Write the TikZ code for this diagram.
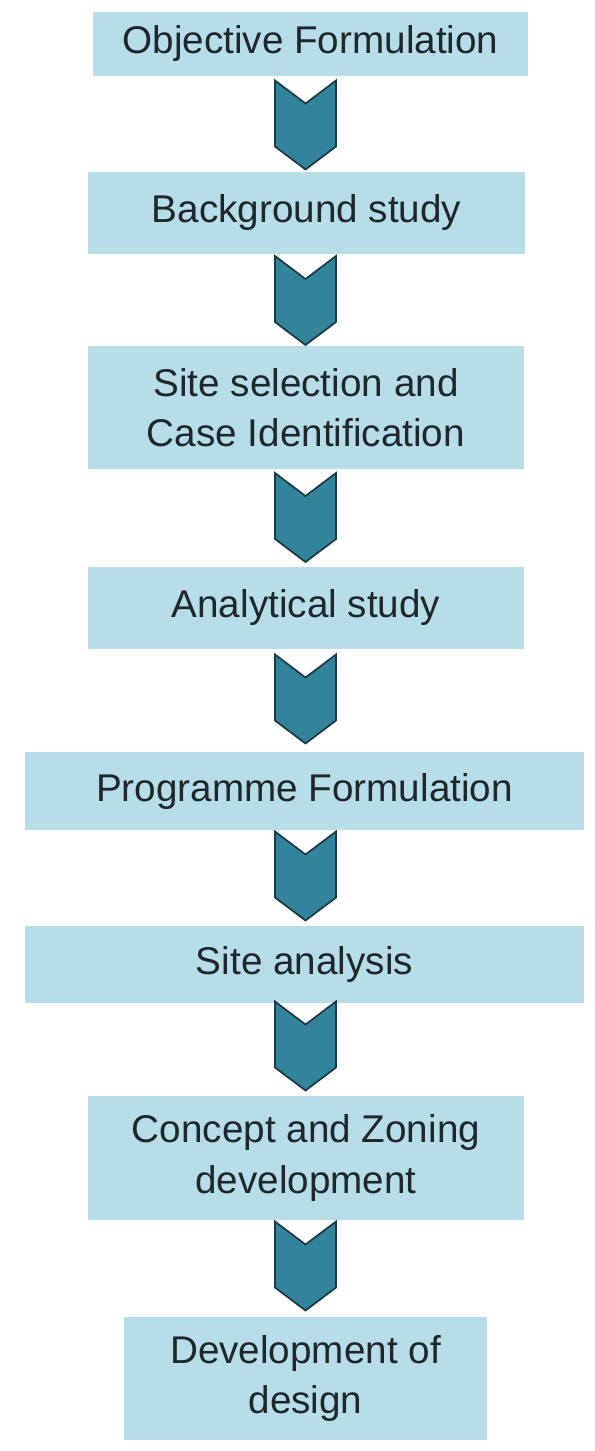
\documentclass[tikz,border=0pt]{standalone}
\usepackage{fontspec}
\setmainfont{Liberation Sans}
\usetikzlibrary{shapes.symbols}
\definecolor{step-blue}{HTML}{B7DEE8}
\definecolor{chev-teal}{HTML}{31849B}
\definecolor{chev-edge}{HTML}{1F3A45}
\definecolor{text-dark}{HTML}{1E272C}

\begin{document}
\begin{tikzpicture}[
        every node/.style={font=\fontsize{22}{28.5}\selectfont, text=text-dark},
        stepbox/.style={fill=step-blue, inner sep=0pt, align=center},
        chevron/.style={signal, signal from=north, signal to=south,
            signal pointer angle=106, fill=chev-teal, draw=chev-edge,
            line width=1pt, inner sep=0pt,
            minimum width=1.22cm, minimum height=0.86cm}]
      \useasboundingbox (0,0) rectangle (11.88,-29.02);
      % steps
      \node[stepbox, minimum width=8.70cm, minimum height=1.28cm]
            (OBJ) at (6.21,-0.88) {Objective Formulation};
      \node[stepbox, minimum width=8.74cm, minimum height=1.64cm]
            (BKG) at (6.13,-4.26) {Background study};
      \node[stepbox, minimum width=8.72cm, minimum height=2.46cm]
            (SITE) at (6.12,-8.15) {Site selection and\\Case Identification};
      \node[stepbox, minimum width=8.72cm, minimum height=1.64cm]
            (ANA) at (6.12,-12.16) {Analytical study};
      \node[stepbox, minimum width=11.18cm, minimum height=1.56cm]
            (PROG) at (6.09,-15.82) {Programme Formulation};
      \node[stepbox, minimum width=11.18cm, minimum height=1.54cm]
            (SA) at (6.09,-19.29) {Site analysis};
      \node[stepbox, minimum width=8.72cm, minimum height=2.48cm]
            (CZ) at (6.12,-23.16) {Concept and Zoning\\development};
      \node[stepbox, minimum width=7.26cm, minimum height=2.46cm]
            (DES) at (6.11,-27.57) {Development of\\design};
      % chevrons between steps
      \node[chevron] (C1) at (6.11,-2.50) {};
      \node[chevron] (C2) at (6.11,-6.01) {};
      \node[chevron] (C3) at (6.11,-10.35) {};
      \node[chevron] (C4) at (6.11,-13.98) {};
      \node[chevron] (C5) at (6.11,-17.52) {};
      \node[chevron] (C6) at (6.11,-20.92) {};
      \node[chevron] (C7) at (6.11,-25.32) {};
    \end{tikzpicture}
\end{document}
